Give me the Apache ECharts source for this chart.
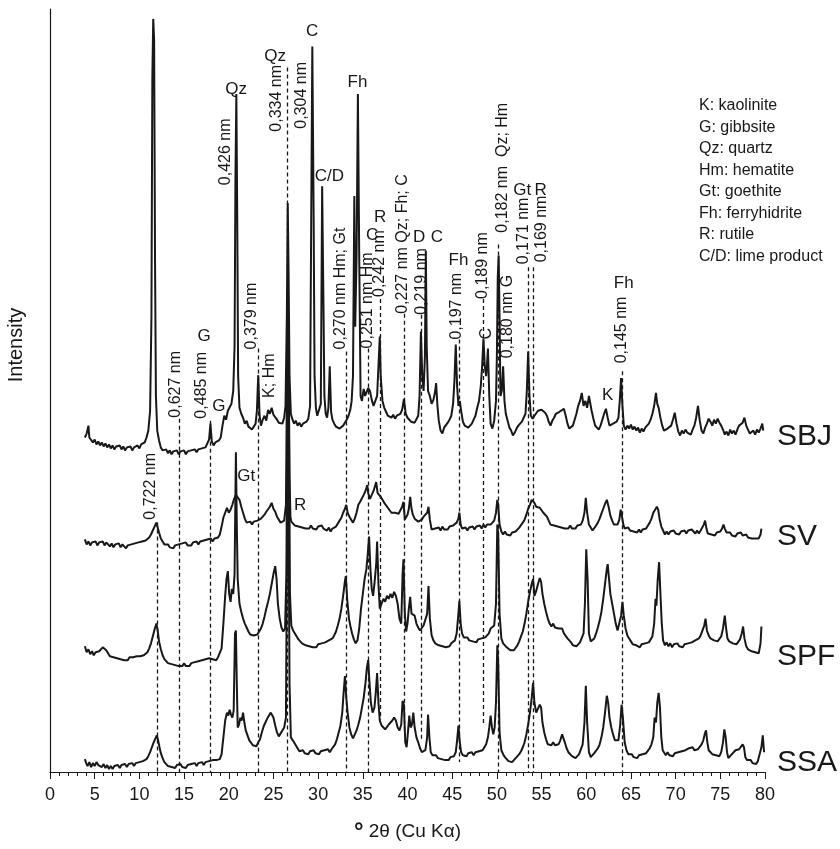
<!DOCTYPE html>
<html><head><meta charset="utf-8">
<script src="https://cdn.jsdelivr.net/npm/echarts@6/dist/echarts.min.js"></script>
<style>html,body{margin:0;padding:0;background:#fff}#c{width:840px;height:849px}</style>
</head><body><div id="c"></div>
<script>
// ---- data (2θ, stacked intensity, arbitrary units) ----
const sampleNames = ['SBJ', 'SV', 'SPF', 'SSA'];

const SBJ = [[3.9,338],[4.1,342],[4.3,350],[4.4,338],[4.6,336],[4.8,333],[5.0,336],[5.2,331],[5.4,334],[5.6,330],[5.8,333],[6.0,329],[6.2,332],[6.4,328],[6.6,331],[6.8,327],[7.0,330],[7.2,326],[7.4,329],[7.6,327],[7.8,330],[8.0,326],[8.2,329],[8.4,325],[8.6,328],[8.8,326],[9.0,329],[9.2,325],[9.4,328],[9.6,326],[9.8,330],[10.0,327],[10.2,331],[10.4,329],[10.6,333],[10.8,338],[11.0,345],[11.2,365],[11.35,460],[11.45,700],[11.55,761],[11.65,740],[11.75,520],[11.85,380],[12.0,345],[12.2,335],[12.4,328],[12.6,325],[12.8,323],[13.0,326],[13.2,322],[13.4,325],[13.6,321],[13.8,324],[14.0,322],[14.2,325],[14.4,321],[14.6,324],[14.8,322],[15.0,325],[15.2,321],[15.4,324],[15.6,322],[15.8,325],[16.0,323],[16.2,326],[16.4,323],[16.6,326],[16.8,324],[17.0,327],[17.2,325],[17.4,328],[17.6,329],[17.8,336],[17.95,352],[18.1,334],[18.3,330],[18.5,333],[18.7,331],[18.9,335],[19.1,338],[19.3,350],[19.5,360],[19.7,356],[19.9,365],[20.1,363],[20.3,372],[20.5,385],[20.65,430],[20.75,600],[20.85,685],[20.95,560],[21.05,400],[21.2,368],[21.4,362],[21.6,358],[21.8,352],[22.0,355],[22.2,349],[22.4,351],[22.6,346],[22.8,349],[23.0,352],[23.15,365],[23.3,401],[23.45,360],[23.6,350],[23.8,356],[24.0,360],[24.2,355],[24.4,366],[24.6,362],[24.8,368],[25.0,361],[25.2,360],[25.4,356],[25.6,353],[25.8,355],[26.0,352],[26.2,358],[26.35,370],[26.5,460],[26.6,575],[26.7,500],[26.8,400],[26.95,362],[27.1,357],[27.3,352],[27.5,355],[27.7,350],[27.9,353],[28.1,349],[28.3,352],[28.5,350],[28.7,354],[28.9,357],[29.1,370],[29.2,520],[29.35,733],[29.5,560],[29.6,400],[29.75,368],[29.9,360],[30.1,358],[30.3,372],[30.45,592],[30.6,470],[30.7,380],[30.85,362],[31.0,358],[31.15,368],[31.3,410],[31.45,364],[31.6,356],[31.8,352],[32.0,349],[32.2,351],[32.4,347],[32.6,348],[32.8,350],[33.0,352],[33.2,356],[33.4,360],[33.6,366],[33.75,375],[33.9,400],[34.05,582],[34.15,450],[34.3,520],[34.45,685],[34.6,520],[34.75,380],[34.9,375],[35.1,387],[35.25,380],[35.4,382],[35.6,388],[35.8,385],[36.0,376],[36.2,370],[36.4,368],[36.6,380],[36.8,420],[36.9,440],[37.0,400],[37.2,375],[37.4,368],[37.6,364],[37.8,360],[38.0,362],[38.2,358],[38.4,361],[38.6,357],[38.8,360],[39.0,358],[39.2,362],[39.4,366],[39.6,377],[39.8,362],[40.0,358],[40.2,357],[40.4,354],[40.6,356],[40.8,353],[41.0,354],[41.2,360],[41.35,380],[41.5,445],[41.65,400],[41.8,385],[41.95,420],[42.05,527],[42.15,430],[42.3,385],[42.5,380],[42.7,372],[42.9,376],[43.1,385],[43.2,393],[43.35,370],[43.5,355],[43.7,345],[43.9,342],[44.1,348],[44.3,350],[44.5,353],[44.7,356],[44.9,360],[45.1,372],[45.25,395],[45.4,432],[45.55,390],[45.7,370],[45.85,375],[46.0,365],[46.2,354],[46.4,350],[46.6,352],[46.8,348],[47.0,350],[47.2,352],[47.4,356],[47.6,360],[47.8,368],[48.0,375],[48.2,390],[48.35,410],[48.5,438],[48.65,410],[48.8,400],[48.9,412],[49.0,428],[49.15,380],[49.3,352],[49.5,347],[49.7,355],[49.9,375],[50.0,420],[50.1,500],[50.2,522],[50.3,460],[50.4,380],[50.55,385],[50.7,410],[50.85,375],[51.0,362],[51.2,355],[51.4,348],[51.6,345],[51.8,340],[52.0,343],[52.2,347],[52.4,350],[52.6,352],[52.8,354],[53.0,356],[53.2,362],[53.35,385],[53.5,425],[53.65,380],[53.8,360],[54.0,357],[54.2,360],[54.4,362],[54.6,365],[54.8,367],[55.0,366],[55.2,367],[55.4,363],[55.6,360],[55.8,354],[56.0,350],[56.2,355],[56.4,358],[56.6,362],[56.8,360],[57.0,364],[57.2,362],[57.5,367],[57.7,360],[57.9,352],[58.1,347],[58.3,345],[58.5,350],[58.7,356],[58.9,362],[59.1,370],[59.3,375],[59.5,383],[59.7,370],[59.9,375],[60.1,368],[60.3,380],[60.45,378],[60.6,365],[60.8,357],[61.0,350],[61.2,348],[61.4,346],[61.6,350],[61.8,356],[62.0,362],[62.2,367],[62.4,358],[62.6,350],[62.8,348],[63.0,352],[63.2,350],[63.4,354],[63.6,358],[63.75,375],[63.9,398],[64.05,370],[64.2,350],[64.4,346],[64.6,350],[64.8,347],[65.0,351],[65.2,346],[65.4,349],[65.6,345],[65.8,348],[66.0,343],[66.2,347],[66.4,344],[66.6,348],[66.8,350],[67.0,352],[67.2,356],[67.4,362],[67.6,370],[67.8,383],[67.95,372],[68.1,368],[68.3,358],[68.5,350],[68.7,345],[68.9,343],[69.1,347],[69.3,345],[69.5,350],[69.7,356],[69.9,363],[70.1,352],[70.3,344],[70.5,340],[70.7,345],[70.9,342],[71.1,346],[71.3,343],[71.5,345],[71.7,341],[71.9,346],[72.1,350],[72.3,358],[72.5,370],[72.7,355],[72.9,345],[73.1,342],[73.3,348],[73.5,352],[73.7,357],[73.9,354],[74.1,350],[74.3,356],[74.5,352],[74.7,357],[74.9,353],[75.1,350],[75.3,346],[75.5,341],[75.7,344],[75.9,340],[76.1,346],[76.3,342],[76.5,345],[76.7,341],[76.9,346],[77.1,350],[77.3,348],[77.5,353],[77.7,358],[77.9,350],[78.1,346],[78.3,342],[78.5,340],[78.7,345],[78.9,341],[79.1,346],[79.3,343],[79.5,347],[79.7,352],[79.8,345]];

const SV = [[3.9,235],[4.1,230],[4.3,233],[4.5,229],[4.7,232],[4.9,230],[5.1,233],[5.3,229],[5.5,232],[5.7,230],[5.9,233],[6.1,229],[6.3,232],[6.5,230],[6.7,228],[6.9,231],[7.1,227],[7.3,230],[7.5,228],[7.7,231],[7.9,227],[8.1,230],[8.3,228],[8.5,226],[8.7,229],[8.9,227],[9.1,230],[9.3,228],[9.5,231],[9.7,229],[9.9,232],[10.1,230],[10.3,233],[10.5,231],[10.7,234],[10.9,233],[11.1,237],[11.3,240],[11.5,244],[11.7,248],[11.9,252],[12.05,247],[12.2,242],[12.4,236],[12.6,233],[12.8,230],[13.0,228],[13.2,230],[13.4,227],[13.6,229],[13.8,226],[14.0,229],[14.2,227],[14.4,230],[14.6,228],[14.8,231],[15.0,229],[15.2,232],[15.4,229],[15.6,231],[15.8,229],[16.0,232],[16.2,230],[16.4,233],[16.6,230],[16.8,233],[17.0,231],[17.2,234],[17.4,232],[17.6,235],[17.8,233],[18.0,236],[18.2,233],[18.4,236],[18.6,234],[18.8,237],[19.0,240],[19.2,248],[19.4,257],[19.6,262],[19.8,267],[20.0,262],[20.2,265],[20.4,270],[20.6,276],[20.8,280],[21.0,282],[21.2,275],[21.4,268],[21.6,262],[21.8,256],[22.0,252],[22.2,250],[22.4,253],[22.6,250],[22.8,253],[23.0,251],[23.2,254],[23.4,252],[23.6,256],[23.8,258],[24.0,260],[24.2,263],[24.4,265],[24.6,268],[24.8,272],[25.0,266],[25.2,263],[25.4,258],[25.6,256],[25.8,252],[26.0,250],[26.2,254],[26.4,270],[26.5,380],[26.6,490],[26.7,420],[26.8,300],[26.9,258],[27.0,253],[27.2,252],[27.4,249],[27.6,251],[27.8,248],[28.0,250],[28.2,247],[28.4,249],[28.6,246],[28.8,248],[29.0,246],[29.2,249],[29.4,246],[29.6,248],[29.8,245],[30.0,248],[30.2,246],[30.4,249],[30.6,246],[30.8,248],[31.0,244],[31.2,247],[31.4,243],[31.6,246],[31.8,244],[32.0,248],[32.2,250],[32.4,254],[32.6,257],[32.8,262],[33.0,266],[33.15,270],[33.3,262],[33.5,258],[33.7,255],[33.9,252],[34.1,256],[34.3,262],[34.5,270],[34.7,273],[34.9,275],[35.1,280],[35.3,284],[35.5,290],[35.6,282],[35.8,276],[36.0,277],[36.2,284],[36.4,290],[36.5,293],[36.65,282],[36.8,280],[37.0,278],[37.2,275],[37.4,272],[37.6,270],[37.8,267],[38.0,266],[38.2,262],[38.4,264],[38.6,262],[38.8,260],[39.0,261],[39.2,262],[39.4,268],[39.55,273],[39.7,255],[39.85,253],[40.0,260],[40.15,266],[40.3,278],[40.45,266],[40.6,260],[40.8,256],[41.0,254],[41.2,253],[41.4,252],[41.6,255],[41.8,258],[42.0,260],[42.2,262],[42.35,268],[42.5,255],[42.7,245],[42.9,243],[43.1,246],[43.3,244],[43.5,247],[43.7,244],[43.9,248],[44.1,245],[44.3,247],[44.5,245],[44.7,248],[44.9,246],[45.1,249],[45.3,248],[45.5,252],[45.7,256],[45.8,262],[45.95,250],[46.1,246],[46.3,244],[46.5,247],[46.7,244],[46.9,247],[47.1,245],[47.3,248],[47.5,245],[47.7,248],[47.9,246],[48.1,249],[48.3,246],[48.5,250],[48.7,247],[48.9,250],[49.1,248],[49.3,250],[49.5,252],[49.7,254],[49.9,262],[50.05,275],[50.15,270],[50.3,250],[50.5,243],[50.7,240],[50.9,243],[51.1,240],[51.3,242],[51.5,239],[51.7,242],[51.9,240],[52.1,243],[52.3,245],[52.5,247],[52.7,249],[52.9,252],[53.1,255],[53.3,260],[53.5,266],[53.7,270],[53.9,275],[54.05,277],[54.2,272],[54.4,268],[54.6,266],[54.8,267],[55.0,265],[55.2,262],[55.4,260],[55.6,258],[55.8,254],[56.0,250],[56.2,252],[56.4,249],[56.6,251],[56.8,248],[57.0,250],[57.2,247],[57.4,249],[57.6,246],[57.8,248],[58.0,246],[58.2,249],[58.4,246],[58.6,248],[58.8,246],[59.0,249],[59.2,247],[59.4,250],[59.6,254],[59.8,262],[59.95,277],[60.1,262],[60.3,250],[60.5,247],[60.7,244],[60.9,246],[61.1,249],[61.3,252],[61.5,256],[61.7,261],[61.9,266],[62.1,271],[62.3,275],[62.5,268],[62.7,259],[62.9,254],[63.1,250],[63.3,248],[63.5,250],[63.7,255],[63.85,265],[64.0,258],[64.15,250],[64.3,246],[64.5,245],[64.7,247],[64.9,244],[65.1,246],[65.3,243],[65.5,245],[65.7,242],[65.9,245],[66.1,242],[66.3,245],[66.5,243],[66.7,246],[66.9,249],[67.1,252],[67.3,256],[67.5,262],[67.7,264],[67.9,268],[68.05,265],[68.2,256],[68.4,248],[68.6,244],[68.8,240],[69.0,243],[69.2,240],[69.4,243],[69.6,241],[69.8,244],[70.0,241],[70.2,243],[70.4,240],[70.6,243],[70.8,241],[71.0,244],[71.2,241],[71.4,244],[71.6,242],[71.8,245],[72.0,243],[72.2,241],[72.4,244],[72.6,241],[72.8,244],[73.0,246],[73.15,250],[73.3,254],[73.45,246],[73.6,241],[73.8,243],[74.0,240],[74.2,242],[74.4,239],[74.6,242],[74.8,240],[75.0,243],[75.2,246],[75.35,250],[75.5,246],[75.7,242],[75.9,240],[76.1,242],[76.3,239],[76.5,241],[76.7,238],[76.9,241],[77.1,239],[77.3,242],[77.5,239],[77.7,237],[77.9,240],[78.1,237],[78.3,239],[78.5,236],[78.7,238],[78.9,236],[79.1,238],[79.3,236],[79.5,240],[79.6,246]];

const SPF = [[3.9,127],[4.1,121],[4.3,124],[4.5,119],[4.7,122],[4.9,118],[5.1,121],[5.3,119],[5.5,122],[5.7,124],[5.9,126],[6.1,127],[6.3,123],[6.5,120],[6.7,117],[6.9,119],[7.1,116],[7.3,118],[7.5,115],[7.7,117],[7.9,114],[8.1,116],[8.3,113],[8.5,115],[8.7,113],[8.9,116],[9.1,114],[9.3,116],[9.5,114],[9.7,117],[9.9,115],[10.1,117],[10.3,115],[10.5,118],[10.7,117],[10.9,121],[11.1,125],[11.3,130],[11.5,137],[11.7,144],[11.9,150],[12.05,143],[12.2,132],[12.4,124],[12.6,118],[12.8,114],[13.0,112],[13.2,110],[13.4,112],[13.6,109],[13.8,111],[14.0,108],[14.2,110],[14.4,107],[14.6,109],[14.8,107],[15.0,110],[15.2,107],[15.4,109],[15.6,107],[15.8,110],[16.0,108],[16.2,111],[16.4,109],[16.6,112],[16.8,110],[17.0,113],[17.2,111],[17.4,114],[17.6,112],[17.8,115],[18.0,117],[18.2,114],[18.4,116],[18.6,113],[18.8,116],[19.0,118],[19.2,125],[19.4,150],[19.6,178],[19.75,195],[19.9,203],[20.05,180],[20.2,172],[20.35,185],[20.5,180],[20.65,200],[20.8,323],[20.9,250],[21.0,195],[21.2,170],[21.4,162],[21.6,155],[21.8,150],[22.0,146],[22.2,142],[22.4,139],[22.6,137],[22.8,138],[23.0,136],[23.2,139],[23.4,141],[23.6,145],[23.8,150],[24.0,157],[24.2,165],[24.4,172],[24.6,180],[24.8,190],[25.0,200],[25.2,208],[25.35,195],[25.5,170],[25.7,155],[25.9,146],[26.1,142],[26.3,145],[26.45,200],[26.55,360],[26.65,440],[26.75,330],[26.85,180],[27.0,148],[27.2,143],[27.4,140],[27.6,137],[27.8,134],[28.0,133],[28.2,130],[28.4,131],[28.6,128],[28.8,130],[29.0,127],[29.2,129],[29.4,126],[29.6,128],[29.8,126],[30.0,129],[30.2,127],[30.4,130],[30.6,128],[30.8,131],[31.0,130],[31.2,133],[31.4,132],[31.6,135],[31.8,138],[32.0,142],[32.2,148],[32.4,155],[32.6,165],[32.8,178],[33.0,193],[33.1,198],[33.25,175],[33.45,155],[33.6,148],[33.8,140],[34.0,134],[34.2,130],[34.4,133],[34.6,145],[34.8,165],[35.0,180],[35.2,195],[35.4,205],[35.55,220],[35.7,238],[35.85,205],[36.0,185],[36.15,178],[36.3,190],[36.5,210],[36.6,233],[36.75,190],[36.9,165],[37.1,170],[37.3,175],[37.5,172],[37.7,178],[37.9,175],[38.1,180],[38.3,176],[38.5,182],[38.7,178],[38.9,170],[39.1,155],[39.3,150],[39.45,200],[39.55,215],[39.7,160],[39.85,142],[40.0,150],[40.15,165],[40.3,177],[40.45,160],[40.6,162],[40.8,158],[41.0,150],[41.2,146],[41.4,143],[41.6,145],[41.8,148],[42.0,150],[42.2,160],[42.35,188],[42.5,155],[42.7,138],[42.9,133],[43.1,130],[43.3,132],[43.5,128],[43.7,130],[43.9,127],[44.1,129],[44.3,126],[44.5,128],[44.7,127],[44.9,130],[45.1,129],[45.3,133],[45.5,140],[45.7,160],[45.8,173],[45.95,150],[46.1,140],[46.3,136],[46.5,134],[46.7,136],[46.9,133],[47.1,135],[47.3,132],[47.5,134],[47.7,131],[47.9,134],[48.1,132],[48.3,135],[48.5,133],[48.7,136],[48.9,138],[49.1,140],[49.3,145],[49.5,143],[49.7,148],[49.9,170],[50.05,250],[50.15,240],[50.3,160],[50.5,135],[50.7,130],[50.9,128],[51.1,126],[51.3,124],[51.5,123],[51.7,121],[51.9,123],[52.1,125],[52.3,128],[52.5,132],[52.7,137],[52.9,142],[53.1,150],[53.3,160],[53.5,172],[53.7,182],[53.9,190],[54.05,195],[54.2,178],[54.4,183],[54.6,190],[54.8,196],[54.95,192],[55.1,180],[55.3,170],[55.5,162],[55.7,155],[55.9,150],[56.1,147],[56.3,150],[56.5,146],[56.7,148],[56.9,145],[57.1,143],[57.3,145],[57.5,140],[57.7,138],[57.9,135],[58.1,133],[58.3,131],[58.5,128],[58.7,130],[58.9,127],[59.1,129],[59.3,131],[59.5,133],[59.7,140],[59.85,170],[60.0,225],[60.15,195],[60.3,140],[60.5,132],[60.7,130],[60.9,135],[61.1,140],[61.3,146],[61.5,153],[61.7,162],[61.9,175],[62.1,190],[62.3,205],[62.4,210],[62.55,195],[62.7,180],[62.9,170],[63.1,160],[63.3,150],[63.5,143],[63.7,145],[63.9,158],[64.05,172],[64.2,158],[64.4,145],[64.6,138],[64.8,135],[65.0,132],[65.2,129],[65.4,131],[65.6,128],[65.8,130],[66.0,126],[66.2,129],[66.4,127],[66.6,130],[66.8,128],[67.0,131],[67.2,133],[67.4,137],[67.6,150],[67.75,175],[67.85,168],[68.0,195],[68.15,212],[68.3,180],[68.45,150],[68.6,133],[68.8,128],[69.0,131],[69.2,127],[69.4,130],[69.6,126],[69.8,129],[70.0,127],[70.2,130],[70.4,127],[70.6,129],[70.8,126],[71.0,129],[71.2,127],[71.4,130],[71.6,128],[71.8,131],[72.0,129],[72.2,133],[72.4,131],[72.6,135],[72.8,138],[73.0,140],[73.2,148],[73.35,155],[73.5,143],[73.7,138],[73.9,135],[74.1,137],[74.3,133],[74.5,135],[74.7,132],[74.9,134],[75.1,137],[75.3,145],[75.5,158],[75.65,145],[75.8,135],[76.0,132],[76.2,134],[76.4,130],[76.6,132],[76.8,129],[77.0,131],[77.2,134],[77.4,140],[77.55,147],[77.7,135],[77.9,127],[78.1,124],[78.3,126],[78.5,122],[78.7,124],[78.9,121],[79.1,123],[79.3,120],[79.5,130],[79.6,147]];

const SSA = [[3.9,13],[4.05,9],[4.2,6],[4.4,10],[4.6,5],[4.8,9],[5.0,6],[5.2,10],[5.4,7],[5.6,9],[5.8,5],[6.0,8],[6.2,4],[6.4,7],[6.6,3],[6.8,6],[7.0,3],[7.2,6],[7.4,4],[7.6,7],[7.8,4],[8.0,7],[8.2,5],[8.4,8],[8.6,5],[8.8,8],[9.0,6],[9.2,9],[9.4,6],[9.6,9],[9.8,7],[10.0,10],[10.2,8],[10.4,11],[10.6,10],[10.8,13],[11.0,16],[11.2,20],[11.4,25],[11.6,30],[11.8,34],[11.95,37],[12.1,32],[12.25,25],[12.4,19],[12.6,14],[12.8,10],[13.0,8],[13.2,6],[13.4,8],[13.6,5],[13.8,7],[14.0,4],[14.2,7],[14.4,5],[14.6,8],[14.8,5],[15.0,7],[15.2,4],[15.4,7],[15.6,5],[15.8,8],[16.0,6],[16.2,9],[16.4,6],[16.6,9],[16.8,7],[17.0,10],[17.2,7],[17.4,10],[17.6,8],[17.8,11],[18.0,9],[18.2,12],[18.4,10],[18.6,12],[18.8,10],[19.0,13],[19.2,18],[19.4,35],[19.6,52],[19.8,60],[19.95,57],[20.1,63],[20.25,58],[20.4,55],[20.55,62],[20.7,140],[20.8,143],[20.9,90],[21.0,45],[21.15,48],[21.3,55],[21.45,52],[21.6,60],[21.75,50],[21.9,42],[22.1,37],[22.3,32],[22.5,30],[22.7,27],[22.9,29],[23.1,26],[23.3,30],[23.5,33],[23.7,40],[23.9,46],[24.1,50],[24.3,54],[24.5,57],[24.7,60],[24.85,62],[25.0,55],[25.2,47],[25.4,40],[25.6,36],[25.8,38],[26.0,42],[26.2,45],[26.4,55],[26.5,200],[26.6,330],[26.7,250],[26.8,90],[26.95,35],[27.1,33],[27.3,30],[27.5,27],[27.7,24],[27.9,21],[28.1,20],[28.3,22],[28.5,19],[28.7,21],[28.9,18],[29.1,21],[29.3,19],[29.5,22],[29.7,19],[29.9,21],[30.1,18],[30.3,21],[30.5,19],[30.7,22],[30.9,20],[31.1,23],[31.3,20],[31.5,23],[31.7,25],[31.9,28],[32.1,33],[32.3,40],[32.5,47],[32.7,60],[32.85,80],[33.0,97],[33.15,75],[33.3,60],[33.5,45],[33.7,38],[33.9,34],[34.1,38],[34.3,42],[34.5,48],[34.7,55],[34.9,65],[35.1,75],[35.3,90],[35.45,105],[35.6,113],[35.75,90],[35.9,70],[36.1,60],[36.3,65],[36.45,80],[36.6,100],[36.75,70],[36.9,52],[37.1,47],[37.3,45],[37.5,43],[37.7,45],[37.9,48],[38.1,50],[38.3,52],[38.5,55],[38.7,52],[38.9,45],[39.1,42],[39.3,48],[39.45,72],[39.6,68],[39.75,30],[39.9,25],[40.05,40],[40.2,57],[40.35,45],[40.5,48],[40.65,60],[40.8,45],[41.0,35],[41.2,30],[41.4,24],[41.6,20],[41.8,18],[42.0,22],[42.2,35],[42.3,58],[42.45,35],[42.6,20],[42.8,17],[43.0,15],[43.2,17],[43.4,14],[43.6,16],[43.8,13],[44.0,15],[44.2,12],[44.4,14],[44.6,12],[44.8,15],[45.0,13],[45.2,16],[45.4,20],[45.55,32],[45.7,47],[45.85,30],[46.0,20],[46.2,17],[46.4,19],[46.6,16],[46.8,19],[47.0,17],[47.2,20],[47.4,17],[47.6,20],[47.8,18],[48.0,21],[48.2,19],[48.4,22],[48.6,23],[48.8,28],[49.0,35],[49.15,45],[49.3,57],[49.45,45],[49.6,38],[49.75,45],[49.9,70],[50.05,128],[50.15,110],[50.3,40],[50.5,22],[50.7,18],[50.9,15],[51.1,13],[51.3,11],[51.5,12],[51.7,10],[51.9,12],[52.1,14],[52.3,16],[52.5,18],[52.7,21],[52.9,25],[53.1,30],[53.3,38],[53.5,48],[53.7,60],[53.9,75],[54.05,90],[54.2,70],[54.4,60],[54.6,62],[54.8,68],[54.95,65],[55.1,50],[55.3,40],[55.5,33],[55.7,28],[55.9,30],[56.1,27],[56.3,30],[56.5,27],[56.7,29],[56.9,28],[57.1,32],[57.3,38],[57.45,40],[57.6,30],[57.8,24],[58.0,20],[58.2,18],[58.4,16],[58.6,15],[58.8,14],[59.0,16],[59.2,18],[59.4,20],[59.6,28],[59.8,50],[59.95,87],[60.1,50],[60.3,20],[60.5,15],[60.7,17],[60.9,19],[61.1,21],[61.3,24],[61.5,28],[61.7,35],[61.9,45],[62.1,60],[62.3,77],[62.45,70],[62.6,55],[62.8,45],[63.0,38],[63.2,32],[63.4,30],[63.6,32],[63.8,48],[63.95,68],[64.1,55],[64.3,30],[64.5,22],[64.7,18],[64.9,16],[65.1,18],[65.3,15],[65.5,17],[65.7,14],[65.9,17],[66.1,15],[66.3,18],[66.5,16],[66.7,19],[66.9,21],[67.1,24],[67.3,28],[67.5,35],[67.65,55],[67.8,50],[67.95,70],[68.1,80],[68.25,65],[68.4,35],[68.55,22],[68.7,20],[68.9,17],[69.1,20],[69.3,17],[69.5,19],[69.7,16],[69.9,19],[70.1,17],[70.3,20],[70.5,18],[70.7,21],[70.9,19],[71.1,22],[71.3,20],[71.5,24],[71.7,22],[71.9,25],[72.1,22],[72.3,20],[72.5,23],[72.7,25],[72.9,28],[73.1,32],[73.25,38],[73.4,42],[73.55,30],[73.7,22],[73.9,20],[74.1,18],[74.3,20],[74.5,17],[74.7,19],[74.9,16],[75.1,20],[75.3,30],[75.45,43],[75.6,35],[75.75,20],[75.9,14],[76.1,16],[76.3,18],[76.5,20],[76.7,22],[76.9,20],[77.1,23],[77.3,25],[77.5,28],[77.65,25],[77.8,15],[78.0,12],[78.2,10],[78.4,12],[78.6,9],[78.8,11],[79.0,8],[79.2,11],[79.4,13],[79.6,25],[79.75,37],[79.9,20]];

// dashed reference lines: [2θ, upper intensity, lower intensity]
const refLines = [[12.0,252,0],[14.45,357,0],[17.9,355,0],[23.25,428,0],[26.6,712,0],[33.1,425,0],[35.65,428,0],[36.9,478,53],[39.6,463,40],[41.5,462,33],[45.8,437,10],[48.45,478,47],[50.1,533,0],[53.5,510,0],[54.1,510,0],[64.0,405,0]];

// vertical annotations: [2θ, intensity at text start, text]
const rotLabels = [[11.2,255,'0,722 nm'],[14.1,358,'0,627 nm'],[17.0,357,'0,485 nm'],[19.7,593,'0,426 nm'],[22.5,427,'0,379 nm'],[24.6,378,'K; Hm'],[25.4,647,'0,334 nm'],[28.2,650,'0,304 nm'],[32.5,427,'0,270 nm Hm; Gt'],[35.5,428,'0,251 nm Hm'],[36.85,480,'0,242 nm'],[39.4,463,'0,227 nm Qz; Fh; C'],[41.55,462,'0,219 nm'],[45.5,437,'0,197 nm'],[48.4,478,'0,189 nm'],[48.9,437,'C'],[50.6,545,'0,182 nm  Qz; Hm'],[51.2,418,'0,180 nm G'],[53.0,513,'0,171 nm'],[55.0,515,'0,169 nm'],[63.95,413,'0,145 nm']];

// horizontal phase tags: [2θ, intensity, text]
const tagLabels = [[17.25,440,'G'],[18.9,370,'G'],[20.83,690,'Qz'],[25.2,723,'Qz'],[29.34,748,'C'],[31.25,602,'C/D'],[34.4,697,'Fh'],[36.05,542,'C'],[36.95,560,'R'],[41.3,540,'D'],[43.3,540,'C'],[45.7,517,'Fh'],[52.85,588,'Gt'],[54.9,588,'R'],[64.2,494,'Fh'],[62.4,381,'K'],[21.95,299,'Gt'],[28.0,269,'R']];

const legendLines = ['K: kaolinite','G: gibbsite','Qz: quartz','Hm: hematite','Gt: goethite','Fh: ferryhidrite','R: rutile','C/D: lime product'];

// ---- chart ----
const FONT = '"Liberation Sans", Arial, Helvetica, sans-serif';
const INK = '#1a1718';
const chart = echarts.init(document.getElementById('c'));

const patterns = [SBJ, SV, SPF, SSA];
const series = patterns.map((d, i) => ({
  type: 'line', name: sampleNames[i], data: d, showSymbol: false, symbol: 'none',
  lineStyle: { color: INK, width: 2 }, z: 3, silent: true
}));
series[0].markLine = {
  silent: true, symbol: ['none', 'none'], label: { show: false },
  lineStyle: { type: [4, 3], color: INK, width: 1.3 },
  data: refLines.map(r => [{ coord: [r[0], r[1]] }, { coord: [r[0], r[2]] }])
};
const labelSeries = (rows, rotate, align, size) => ({
  type: 'scatter', silent: true, symbolSize: 0, z: 5,
  itemStyle: { color: INK, opacity: 1 },
  data: rows.map(r => ({ value: [r[0], r[1]], label: { formatter: r[2] } })),
  label: { show: true, position: [0, 0], rotate: rotate, align: align, verticalAlign: 'middle',
           fontSize: size, color: INK, opacity: 1, fontFamily: FONT }
});
series.push(labelSeries(rotLabels, 90, 'left', 16));
series.push(labelSeries(tagLabels, 0, 'center', 17));

const sampleY = [437, 537, 657, 763];
const graphic = [
  { type: 'text', x: 16, y: 345, rotation: Math.PI / 2,
    style: { text: 'Intensity', fill: INK, font: '20px ' + FONT, align: 'center', verticalAlign: 'middle', textAlign: 'center', textVerticalAlign: 'middle' } }
];
sampleNames.forEach((n, i) => graphic.push({
  type: 'text', x: 777, y: sampleY[i],
  style: { text: n, fill: INK, font: '30px ' + FONT, align: 'left', verticalAlign: 'middle', textAlign: 'left', textVerticalAlign: 'middle' }
}));
legendLines.forEach((t, i) => graphic.push({
  type: 'text', x: 699, y: 106 + i * 21.5,
  style: { text: t, fill: INK, font: '16px ' + FONT, align: 'left', verticalAlign: 'middle', textAlign: 'left', textVerticalAlign: 'middle' }
}));

chart.setOption({
  animation: false,
  backgroundColor: '#fff',
  grid: { left: 50, right: 75, top: 9, bottom: 69 },
  xAxis: {
    type: 'value', min: 0, max: 80, interval: 5,
    axisLine: { lineStyle: { color: INK, width: 1.2 } },
    axisTick: { length: 7, lineStyle: { color: INK } },
    minorTick: { show: true, splitNumber: 5, length: 4, lineStyle: { color: INK } },
    splitLine: { show: false }, minorSplitLine: { show: false },
    axisLabel: { fontSize: 18, color: INK, margin: 14, fontFamily: FONT },
    name: '{d|°} 2θ (Cu Kα)', nameLocation: 'middle', nameGap: 48,
    nameTextStyle: { fontSize: 19, color: INK, fontFamily: FONT,
      rich: { d: { fontSize: 24, fontWeight: 'bold', color: INK, fontFamily: FONT } } }
  },
  yAxis: {
    type: 'value', min: 0, max: 771,
    axisLine: { show: true, lineStyle: { color: INK, width: 1.2 } },
    axisTick: { show: false }, axisLabel: { show: false }, splitLine: { show: false }
  },
  graphic: graphic,
  series: series
});
</script>
</body></html>
